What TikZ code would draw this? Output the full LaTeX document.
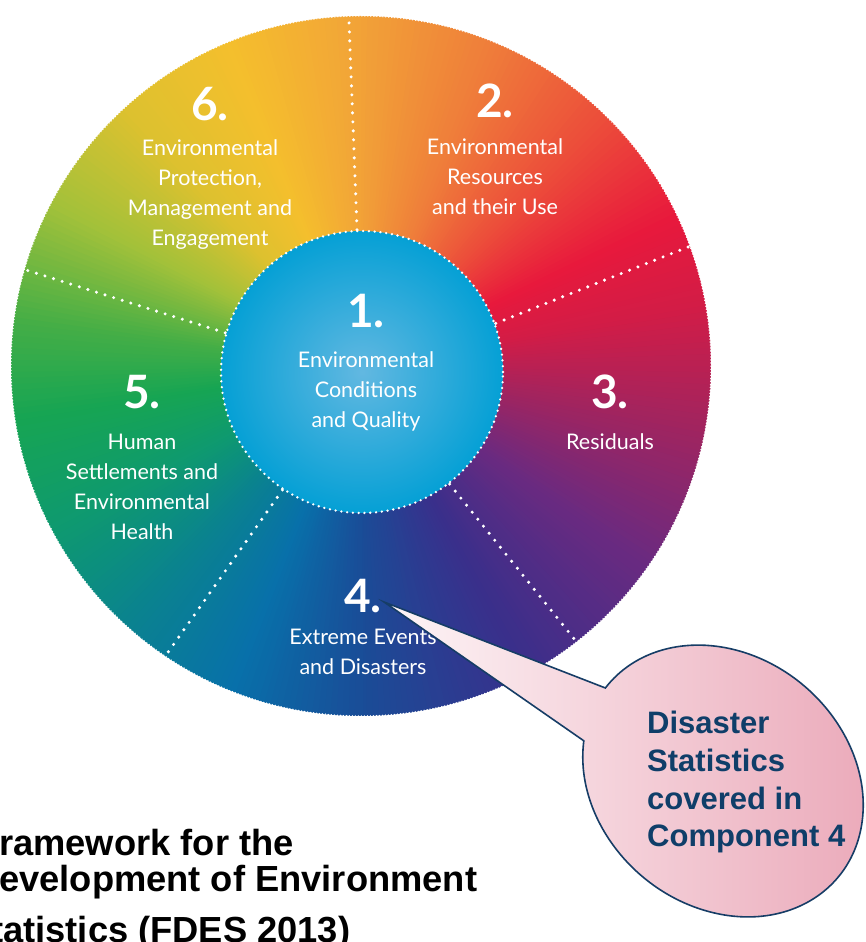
\documentclass[tikz,border=0pt]{standalone}
\usepackage{fontspec}
\setmainfont{Lato}
\newfontfamily\capfont{Liberation Sans}
\usetikzlibrary{calc,positioning}

% stops of the colour wheel, going round from the bottom
\definecolor{wheelA}{HTML}{1A4C97}
\definecolor{wheelB}{HTML}{3A2F8B}
\definecolor{wheelC}{HTML}{6A2A80}
\definecolor{wheelD}{HTML}{A3245E}
\definecolor{wheelE}{HTML}{D31C46}
\definecolor{wheelF}{HTML}{E8193C}
\definecolor{wheelG}{HTML}{EC4D3A}
\definecolor{wheelH}{HTML}{EF7E3A}
\definecolor{wheelI}{HTML}{F2A637}
\definecolor{wheelJ}{HTML}{F4BF2D}
\definecolor{wheelK}{HTML}{DDC12F}
\definecolor{wheelL}{HTML}{A2C13A}
\definecolor{wheelM}{HTML}{45AE46}
\definecolor{wheelN}{HTML}{17A553}
\definecolor{wheelO}{HTML}{0E9970}
\definecolor{wheelP}{HTML}{0A8290}
\definecolor{wheelQ}{HTML}{0870AA}
\definecolor{coreIn}{HTML}{62B8E1}
\definecolor{coreOut}{HTML}{05A0D5}
\definecolor{bubbleL}{HTML}{FDF5F7}
\definecolor{bubbleM}{HTML}{F7DDE3}
\definecolor{bubbleR}{HTML}{EBAABA}
\definecolor{bubbleLine}{HTML}{163D66}
\definecolor{bubbleText}{HTML}{0F3E69}

\begin{document}
\begin{tikzpicture}[x=1pt, y=1pt,
    num/.style={text=white, font=\bfseries\fontsize{46}{46}\selectfont, inner sep=0pt},
    lbl/.style={text=white, align=center, font=\fontsize{21.5}{30}\selectfont, inner sep=0pt},
    divider/.style={white, line width=3.4pt, line cap=round, dash pattern=on 0pt off 9pt},
    rim/.style={white, line width=1.5pt, line cap=round, dash pattern=on 0pt off 3pt},
    core/.style={circle, minimum size=282pt, inner sep=0pt, inner color=coreIn, outer color=coreOut,
                 draw=white, line width=2.6pt, line cap=round, dash pattern=on 0pt off 5.8pt},
    bubble/.style={draw=bubbleLine, line width=1.6pt, left color=bubbleL, middle color=bubbleM, right color=bubbleR},
    caption/.style={font=\capfont\bfseries\fontsize{36.3}{38}\selectfont, inner sep=0pt, anchor=base west}]
  \fill[white] (0,0) rectangle (865,942);
  \useasboundingbox (0,0) rectangle (865,942);
  \coordinate (ctr) at (361,576);

  % colour wheel
  \foreach \aA/\aB/\cA/\cB in {-90/-62/wheelA/wheelB, -62/-35/wheelB/wheelC, -35/-10/wheelC/wheelD,
      -10/10/wheelD/wheelE, 10/25/wheelE/wheelF, 25/45/wheelF/wheelG, 45/68/wheelG/wheelH,
      68/92/wheelH/wheelI, 92/112/wheelI/wheelJ, 112/132/wheelJ/wheelK, 132/152/wheelK/wheelL,
      152/172/wheelL/wheelM, 172/188/wheelM/wheelN, 188/208/wheelN/wheelO, 208/228/wheelO/wheelP,
      228/248/wheelP/wheelQ, 248/270/wheelQ/wheelA} {
    \pgfmathtruncatemacro\n{\aB-\aA-1}
    \foreach \k in {0,...,\n} {
      \pgfmathsetmacro\ang{\aA+\k}
      \pgfmathtruncatemacro\p{round(100*\k/(\aB-\aA))}
      \fill[\cB!\p!\cA] (ctr) -- ++(\ang:350) arc[start angle=\ang, delta angle=1.4, radius=350] -- cycle;
    }
  }
  \draw[rim] (ctr) circle[radius=350];

  \node[core] (core) at (362,570) {};
  \foreach \ang in {20,92,164,236,308}
    \draw[divider] (core.\ang) -- ($(ctr)+(\ang:350)$);

  % components
  \node[num] (num1) at (366,631) {1.};
  \node[lbl, below=23pt of num1] (lbl1) {Environmental\\Conditions\\and Quality};
  \node[num] (num2) at (495,841) {2.};
  \node[lbl, below=20pt of num2] (lbl2) {Environmental\\Resources\\and their Use};
  \node[num] (num3) at (610,550) {3.};
  \node[lbl, below=24pt of num3] (lbl3) {Residuals};
  \node[num] (num4) at (363,346) {4.};
  \node[lbl, below=16pt of num4] (lbl4) {Extreme Events\\and Disasters};
  \node[num] (num5) at (142,550) {5.};
  \node[lbl, below=25pt of num5] (lbl5) {Human\\Settlements and\\Environmental\\Health};
  \node[num] (num6) at (210,838) {6.};
  \node[lbl, below=18pt of num6] (lbl6) {Environmental\\Protection,\\Management and\\Engagement};

  % call-out
  \coordinate (dot4) at (384,340);
  \begin{scope}[shift={(723,161)}, rotate=-40]
    \draw[bubble] (dot4) -- (208:150 and 125) arc[start angle=208, end angle=542, x radius=150, y radius=125] -- cycle;
  \end{scope}
  \node[anchor=north west, inner sep=0pt, align=left, text=bubbleText,
        font=\capfont\bfseries\fontsize{31}{37.7}\selectfont] (note) at (647,231) {Disaster\\Statistics\\covered in\\Component 4};

  % title, cut by the page
  \node[caption] (cap1) at (-1,86) {ramework for the};
  \node[caption] (cap2) at (-1,50) {evelopment of Environment};
  \node[caption] (cap3) at (-9,-1) {tatistics (FDES 2013)};
\end{tikzpicture}
\end{document}
